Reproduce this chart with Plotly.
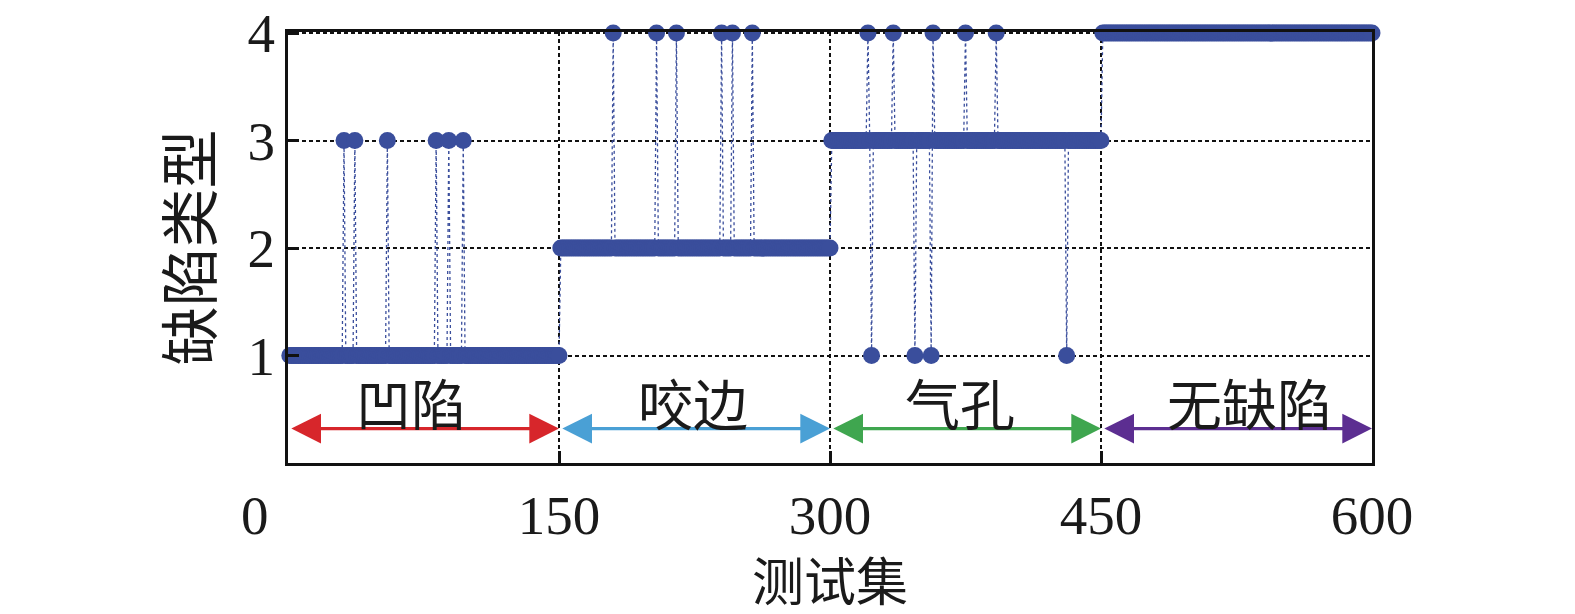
import plotly.graph_objects as go

# defect classes of the test set, 150 samples each
class_names = ["凹陷", "咬边", "气孔", "无缺陷"]
class_ids = [1, 2, 3, 4]
samples_per_class = 150

# misclassified samples (sample number -> predicted class)
wrong_idx = [31, 37, 55, 82, 89, 97,
             180, 204, 215, 240, 246, 257,
             321, 323, 335, 347, 356, 357, 375, 392, 431]
wrong_pred = [3, 3, 3, 3, 3, 3,
              4, 4, 4, 4, 4, 4,
              4, 1, 4, 1, 1, 4, 4, 4, 1]

# label positions for the class names
label_x = [68, 224, 372, 532]

x_ticks = [150, 300, 450, 600]
y_ticks = [1, 2, 3, 4]

BLUE = "#3a4e9c"
arrow_colors = ["#d7262b", "#4aa0d5", "#3fa64f", "#5c2e91"]

sample_no = []
predicted = []
for k, cid in enumerate(class_ids):
    for j in range(samples_per_class):
        sample_no.append(k * samples_per_class + j + 1)
        predicted.append(cid)
for i, p in zip(wrong_idx, wrong_pred):
    predicted[i - 1] = p

fig = go.Figure()

fig.add_trace(go.Scatter(
    x=sample_no, y=predicted,
    mode="lines+markers",
    line=dict(color=BLUE, width=1.3, dash="dot"),
    marker=dict(color=BLUE, size=17, line=dict(width=0)),
    cliponaxis=False,
    showlegend=False,
    hoverinfo="x+y"
))

SERIF = "Liberation Serif, Noto Sans CJK SC"
CJK = "Noto Sans CJK SC"

# double-headed arrows and class names
for k, name in enumerate(class_names):
    x0 = k * samples_per_class
    x1 = (k + 1) * samples_per_class
    fig.add_annotation(
        x=x1, y=0.32, ax=x0 + 1, ay=0.32,
        xref="x", yref="y", axref="x", ayref="y",
        text="", showarrow=True,
        arrowhead=2, startarrowhead=2, arrowside="end+start",
        arrowsize=1.8, startarrowsize=1.8, arrowwidth=3.3,
        arrowcolor=arrow_colors[k], standoff=0, startstandoff=0
    )
    fig.add_annotation(
        x=label_x[k], y=0.58, xref="x", yref="y",
        text=name, showarrow=False,
        font=dict(family=CJK, size=55, color="#1a1a1a"),
        xanchor="center", yanchor="middle"
    )

# "0" tick label sits left of the frame in the original
fig.add_annotation(
    x=0, y=0, xref="x", yref="paper", text="0", showarrow=False,
    xshift=-33, yshift=-52, xanchor="center", yanchor="middle",
    font=dict(family=SERIF, size=55, color="#1a1a1a")
)

# axis titles
fig.add_annotation(
    x=0.5, y=0, xref="paper", yref="paper", text="测试集", showarrow=False,
    yshift=-115, xanchor="center", yanchor="middle",
    font=dict(family=CJK, size=52, color="#1a1a1a")
)
fig.add_annotation(
    x=0, y=0.5, xref="paper", yref="paper", text="缺陷类型", showarrow=False,
    xshift=-102, xanchor="center", yanchor="middle", textangle=-90,
    font=dict(family=CJK, size=59, color="#1a1a1a")
)

grid = dict(showgrid=True, gridcolor="#111111", gridwidth=2, griddash="4px,3px")

# the page body adds 8px around the figure, so the figure is 8px smaller
fig.update_layout(
    width=1567, height=606,
    plot_bgcolor="white", paper_bgcolor="white",
    margin=dict(l=280, r=203, t=24, b=151),
    font=dict(family=SERIF, size=55, color="#1a1a1a"),
    xaxis=dict(
        range=[0, 600], tickvals=x_ticks, ticktext=[str(v) for v in x_ticks],
        ticks="inside", ticklen=12, tickwidth=3, tickcolor="#111111",
        ticklabelstandoff=2, automargin=False, ticklabeloverflow="allow",
        showline=True, linewidth=3, linecolor="#111111", mirror=True,
        zeroline=False, **grid
    ),
    yaxis=dict(
        range=[0, 4.01], tickvals=y_ticks, ticktext=[str(v) for v in y_ticks],
        ticks="inside", ticklen=11, tickwidth=3, tickcolor="#111111",
        ticklabelstandoff=-1, automargin=False, ticklabeloverflow="allow",
        showline=True, linewidth=3, linecolor="#111111", mirror=True,
        zeroline=False, **grid
    ),
)

fig.write_html("out.html")
